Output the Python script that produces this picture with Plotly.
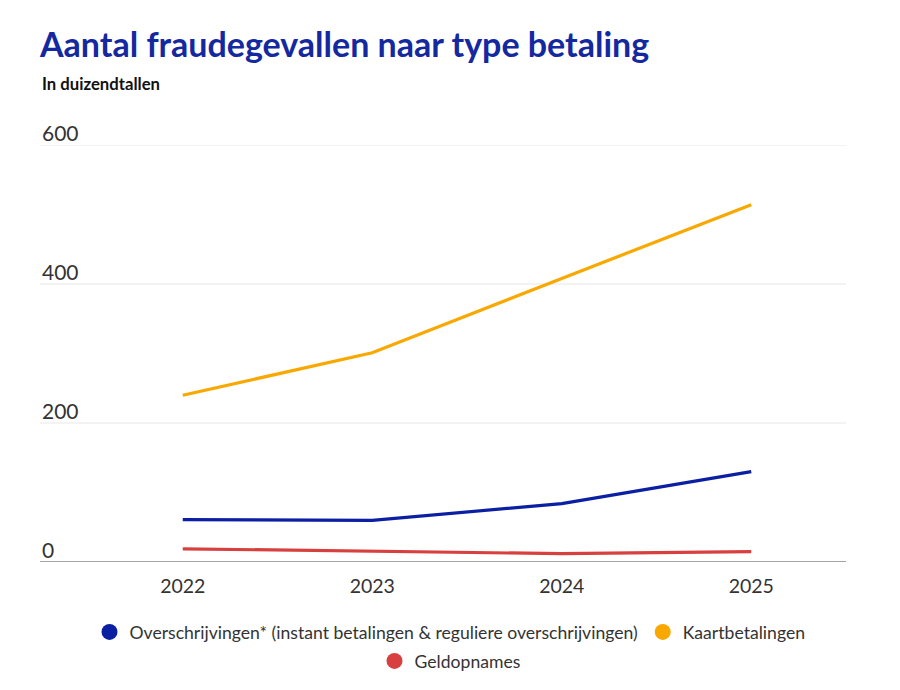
import plotly.graph_objects as go

years = ["2022", "2023", "2024", "2025"]
overschrijvingen = [61, 60, 84, 130]
kaartbetalingen = [240, 301, 408, 514]
geldopnames = [19, 15, 12, 15]
y_ticks = [0, 200, 400, 600]

names = ["Overschrijvingen* (instant betalingen & reguliere overschrijvingen)",
         "Kaartbetalingen", "Geldopnames"]
colors = ["#0b1fa3", "#f9a800", "#d8403f"]
series = [overschrijvingen, kaartbetalingen, geldopnames]

W, H = 900, 690
L, R, T, B = 88, 54, 145, 128
pw = W - L - R
ph = H - T - B
def px_x(p):
    return (p - L) / pw
def px_y(p):
    return (H - B - p) / ph

FONT = "Lato"
fig = go.Figure()

order = [1, 0, 2]
for i in order:
    fig.add_trace(go.Scatter(x=years, y=series[i], mode="lines",
                             line=dict(color=colors[i], width=3.2),
                             showlegend=False, hoverinfo="skip"))

# legend entries
for i in [0, 1]:
    fig.add_trace(go.Scatter(x=[None], y=[None], mode="markers", name=names[i],
                             marker=dict(color=colors[i], size=17), legend="legend"))
fig.add_trace(go.Scatter(x=[None], y=[None], mode="markers", name=names[2],
                         marker=dict(color=colors[2], size=17), legend="legend2"))

shapes = []
annotations = []
x_left = px_x(40)
for v in y_ticks:
    if v == 0:
        shapes.append(dict(type="line", xref="paper", yref="y", x0=x_left, x1=1,
                           y0=v, y1=v, line=dict(color="#a3a3a3", width=2), layer="above"))
    else:
        shapes.append(dict(type="line", xref="paper", yref="y", x0=x_left, x1=1,
                           y0=v, y1=v, line=dict(color="#e8e8e8", width=1.2), layer="below"))
    annotations.append(dict(xref="paper", yref="y", x=x_left, y=v, xanchor="left",
                            yanchor="bottom", yshift=-2, showarrow=False, text=str(v),
                            font=dict(family=FONT, size=21, color="#333333")))

annotations.append(dict(xref="paper", yref="paper", x=x_left, y=px_y(84), xanchor="left",
                        yanchor="middle", showarrow=False, text="<b>In duizendtallen</b>",
                        font=dict(family=FONT, size=16.7, color="#111111")))

fig.update_layout(
    width=W, height=H,
    margin=dict(l=L, r=R, t=T, b=B, autoexpand=False),
    paper_bgcolor="white", plot_bgcolor="white",
    title=dict(text="<b>Aantal fraudegevallen naar type betaling</b>",
               xref="container", x=40 / W, xanchor="left",
               yref="container", y=1 - 45 / H, yanchor="middle",
               font=dict(family=FONT, size=34, color="#1428a0")),
    xaxis=dict(type="category", range=[-0.5, 3.5], showgrid=False, zeroline=False,
               showline=False, ticks="", ticklabelstandoff=10,
               tickfont=dict(family=FONT, size=19.5, color="#333333")),
    yaxis=dict(range=[0, 600], showgrid=False, zeroline=False, showline=False,
               showticklabels=False, fixedrange=True),
    legend=dict(orientation="h", xref="container", x=0.5, xanchor="center",
                yref="container", y=1 - 632 / H, yanchor="middle",
                font=dict(family=FONT, size=17.6, color="#333333"), itemclick=False),
    legend2=dict(orientation="h", xref="container", x=0.5, xanchor="center",
                 yref="container", y=1 - 661 / H, yanchor="middle",
                 font=dict(family=FONT, size=17.6, color="#333333"), itemclick=False),
    shapes=shapes, annotations=annotations,
)

fig.write_html("out.html")
